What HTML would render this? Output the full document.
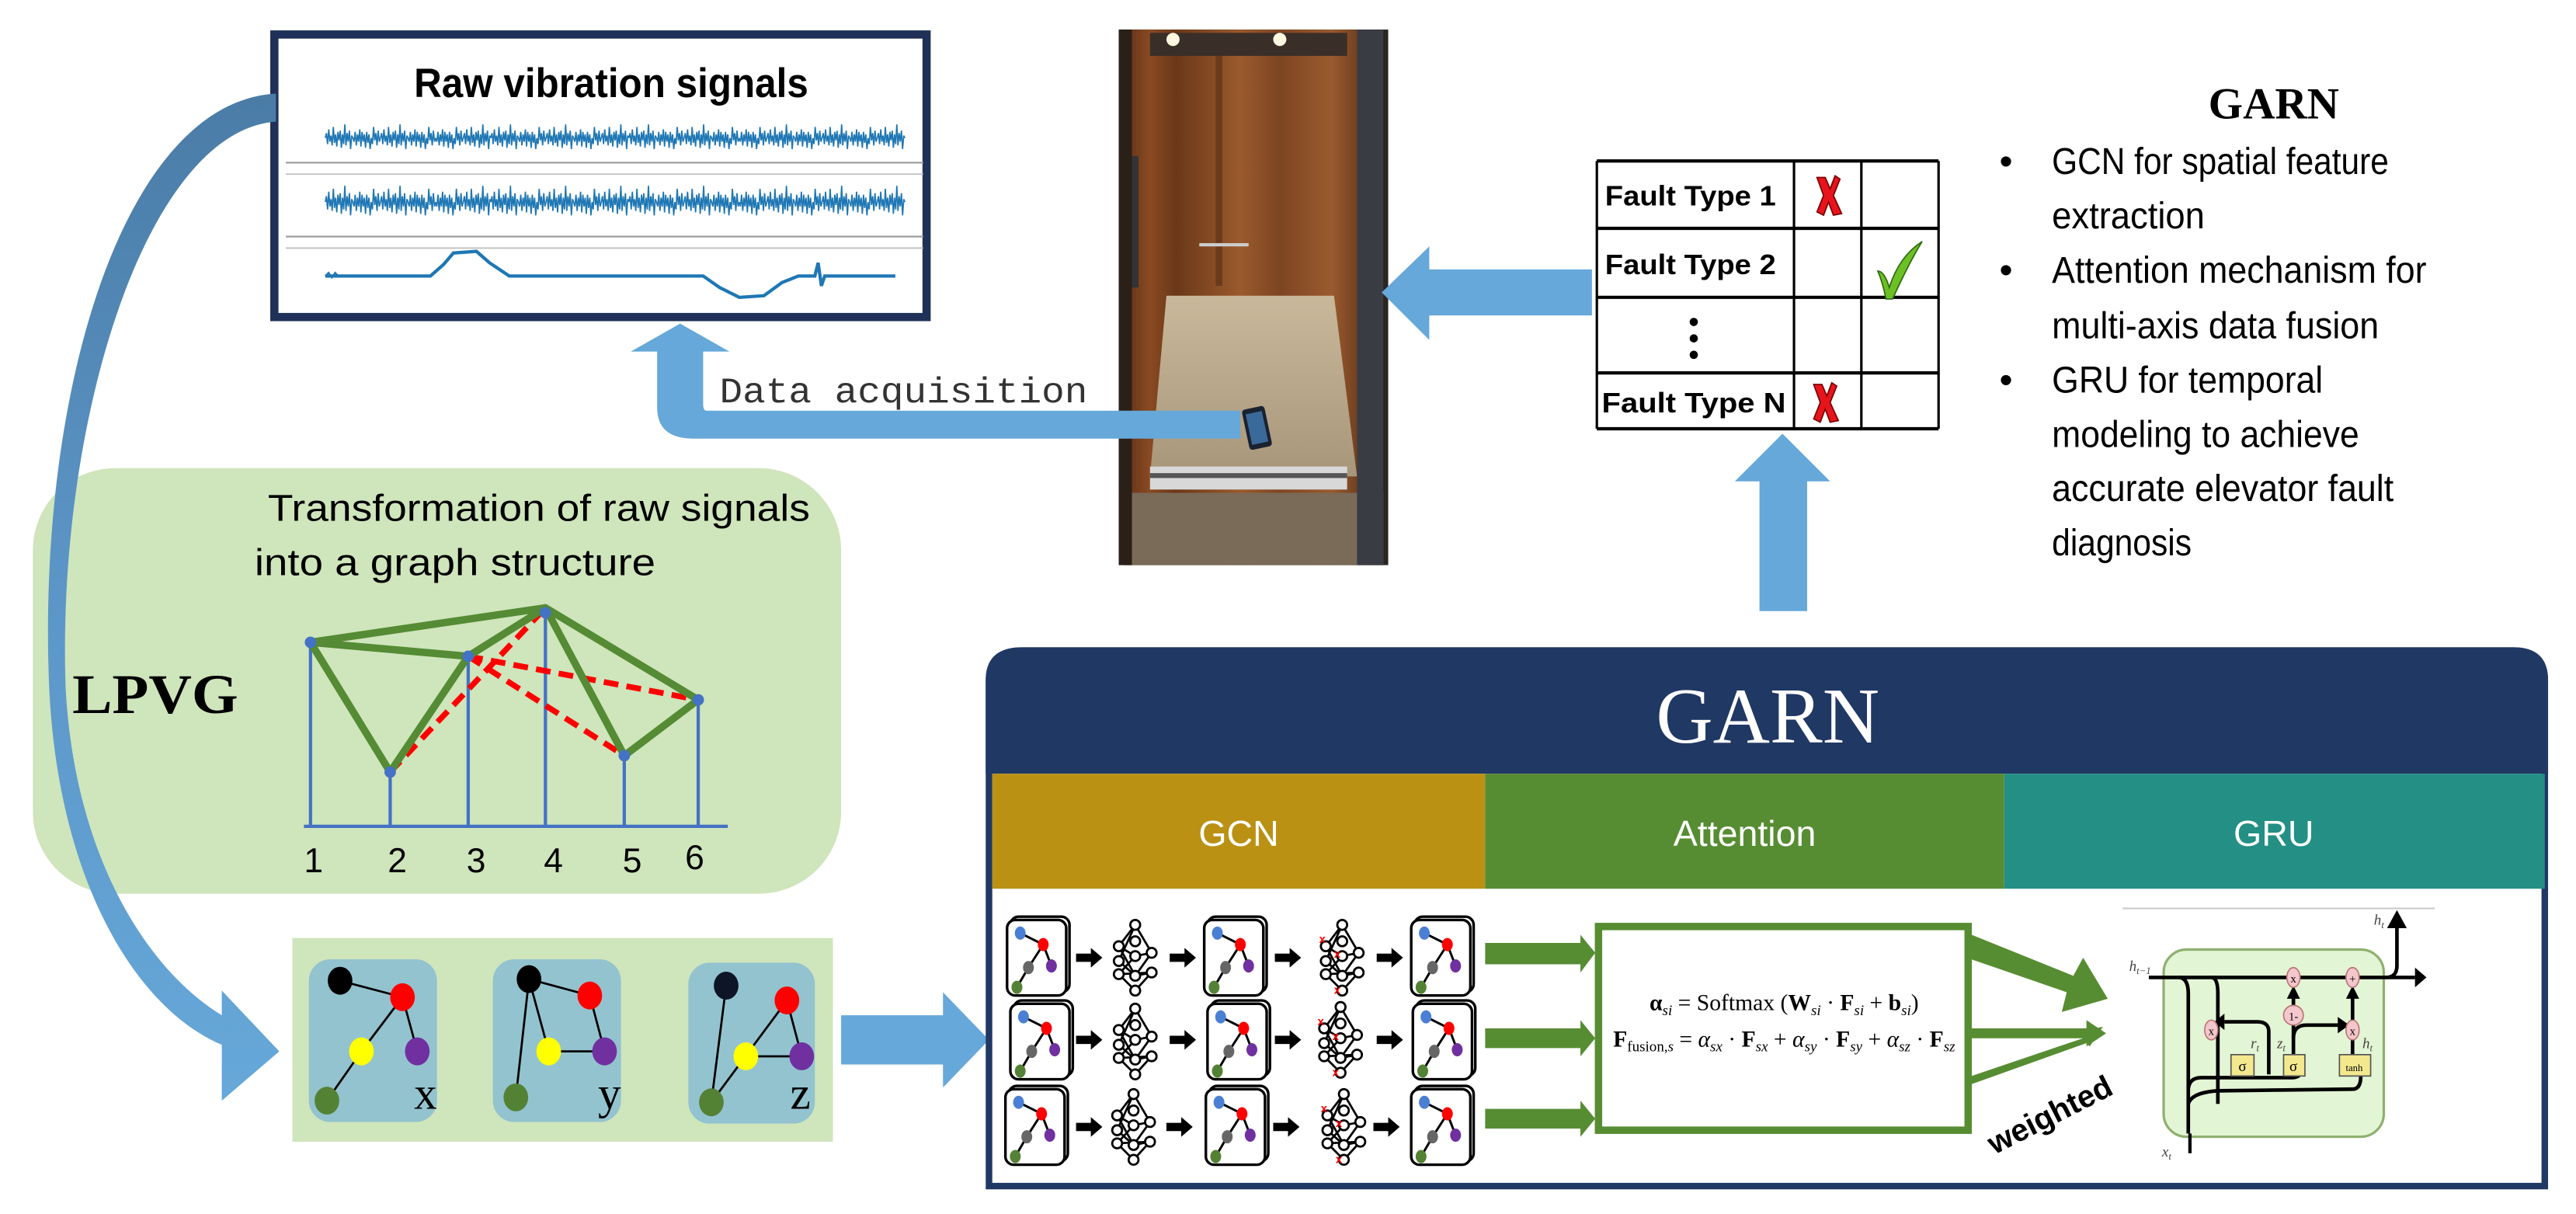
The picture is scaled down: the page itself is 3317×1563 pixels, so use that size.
<!DOCTYPE html>
<html><head><meta charset="utf-8"><style>
html,body{margin:0;padding:0;background:#fff;}
svg{display:block;}
.cal{font-family:"Liberation Sans Narrow","Liberation Sans",sans-serif;}
.ser{font-family:"Liberation Serif",serif;}
</style></head><body>
<svg width="3317" height="1563" viewBox="0 0 1568 739" preserveAspectRatio="none" xmlns="http://www.w3.org/2000/svg">
<defs>
<linearGradient id="curveg" x1="0" y1="0" x2="0" y2="1">
<stop offset="0" stop-color="#4a7ca6"/><stop offset="0.5" stop-color="#5c96c8"/><stop offset="1" stop-color="#66a8d9"/>
</linearGradient>
<linearGradient id="wood" x1="0" y1="0" x2="1" y2="0">
<stop offset="0" stop-color="#5e3016"/><stop offset="0.1" stop-color="#8a4a22"/><stop offset="0.2" stop-color="#6a3818"/><stop offset="0.45" stop-color="#9a5a2c"/><stop offset="0.6" stop-color="#7e4522"/><stop offset="0.8" stop-color="#9a5a2f"/><stop offset="1" stop-color="#4a2812"/>
</linearGradient>
<linearGradient id="floor" x1="0" y1="0" x2="0" y2="1">
<stop offset="0" stop-color="#c9b89a"/><stop offset="1" stop-color="#a8967a"/>
</linearGradient>
<path id="segA" fill="none" stroke="#1f77b4" stroke-width="0.8" d="M0 0 l0.7 -4 l0.7 9 l0.7 -12 l0.7 10 l0.7 -5 l0.7 8 l0.7 -15 l0.7 13 l0.7 -7 l0.7 10 l0.7 -12 l0.7 7 l0.7 -8 l0.7 14 l0.7 -11 l0.7 8 l0.7 -16 l0.7 17 l0.7 -10 l0.7 7 l0.7 -9 l0.7 15 l0.7 -11 l0.7 2"/>
<path id="segB" fill="none" stroke="#1f77b4" stroke-width="0.8" d="M0 0 l0.7 3 l0.7 -8 l0.7 11 l0.7 -9 l0.7 6 l0.7 -10 l0.7 14 l0.7 -12 l0.7 8 l0.7 -6 l0.7 11 l0.7 -13 l0.7 9 l0.7 -7 l0.7 12 l0.7 -9 l0.7 5 l0.7 -14 l0.7 11 l0.7 -6 l0.7 10 l0.7 -12 l0.7 9 l0.7 -3"/>
<g id="row">
<use href="#segA" x="0"/><use href="#segB" x="16.8"/><use href="#segA" x="33.6"/><use href="#segB" x="50.4"/><use href="#segB" x="67.2"/><use href="#segA" x="84"/><use href="#segA" x="100.8"/><use href="#segB" x="117.6"/><use href="#segA" x="134.4"/><use href="#segB" x="151.2"/><use href="#segA" x="168"/><use href="#segA" x="184.8"/><use href="#segB" x="201.6"/><use href="#segA" x="218.4"/><use href="#segB" x="235.2"/><use href="#segB" x="252"/><use href="#segA" x="268.8"/><use href="#segB" x="285.6"/><use href="#segA" x="302.4"/><use href="#segB" x="319.2"/><use href="#segA" x="336"/>
</g>
<g id="gb">
<rect x="2" y="0" width="36" height="46" rx="5" fill="#fff" stroke="#000" stroke-width="1.6"/>
<rect x="0" y="2" width="36" height="46" rx="5" fill="#fff" stroke="#000" stroke-width="1.6"/>
<line x1="8" y1="10" x2="22" y2="17" stroke="#000" stroke-width="1.4"/>
<line x1="22" y1="17" x2="13" y2="31" stroke="#000" stroke-width="1.4"/>
<line x1="22" y1="17" x2="27" y2="30" stroke="#000" stroke-width="1.4"/>
<line x1="13" y1="31" x2="6" y2="43" stroke="#000" stroke-width="1.4"/>
<ellipse cx="8" cy="10" rx="3.3" ry="4" fill="#4a7fd4"/>
<ellipse cx="22" cy="17" rx="3.3" ry="4" fill="#f00"/>
<ellipse cx="13" cy="31" rx="3.3" ry="4" fill="#666"/>
<ellipse cx="27" cy="30" rx="3.3" ry="4" fill="#7030a0"/>
<ellipse cx="6" cy="43" rx="3.3" ry="4" fill="#548235"/>
</g>
<g id="nn" fill="#fff" stroke="#000" stroke-width="1.3">
<path d="M15 4 L5 17 L15 23 L25 21 L15 4 M5 17 L15 35 L25 33 L15 44 L5 34 L15 23 M5 26 L15 35 L25 21 M5 34 L25 33 M5 26 L15 4" fill="none"/>
<circle cx="15" cy="4" r="3"/><circle cx="5" cy="17" r="3"/><circle cx="5" cy="26" r="3"/><circle cx="5" cy="34" r="3"/>
<circle cx="15" cy="14" r="3"/><circle cx="15" cy="23" r="3"/><circle cx="15" cy="35" r="3"/><circle cx="15" cy="44" r="3"/>
<circle cx="25" cy="21" r="3"/><circle cx="25" cy="33" r="3"/>
</g>
<g id="arr"><path d="M0 -2.5 L9 -2.5 L9 -6 L16 0 L9 6 L9 2.5 L0 2.5 Z" fill="#000"/></g>
<g id="xmark"><path d="M-7 -11 L-2 -11 L1 -4 L4 -12 L7 -10 L3 0 L8 11 L3 12 L0 4 L-3 12 L-7 10 L-3 0 Z" fill="#e8141c" stroke="#700" stroke-width="0.8"/></g>
</defs>

<!-- Raw vibration box -->
<rect x="167" y="21" width="397" height="172" fill="#fff" stroke="#1f3158" stroke-width="5"/>
<text x="372" y="59" text-anchor="middle" class="cal" font-weight="bold" font-size="25" textLength="240" lengthAdjust="spacingAndGlyphs">Raw vibration signals</text>
<line x1="174" y1="99" x2="562" y2="99" stroke="#999" stroke-width="1"/>
<line x1="174" y1="106" x2="562" y2="106" stroke="#bbb" stroke-width="0.8"/>
<line x1="174" y1="144" x2="562" y2="144" stroke="#999" stroke-width="1"/>
<line x1="174" y1="151" x2="562" y2="151" stroke="#bbb" stroke-width="0.8"/>
<use href="#row" transform="translate(198 84) scale(1 0.75)"/>
<use href="#row" transform="translate(198 123) scale(1 0.9)"/>
<path d="M198 168 L262 168 L270 161 L276 154 L290 153 L298 160 L310 168 L428 168 L438 175 L450 181 L465 180 L476 172 L486 168 L496 168 L498 160 L500 174 L502 168 L545 168" fill="none" stroke="#1f77b4" stroke-width="2"/>
<path d="M198 168 l2 -2 l2 3 l2 -3 l2 2" fill="none" stroke="#1f77b4" stroke-width="1"/>

<!-- Elevator photo -->
<rect x="681" y="18" width="164" height="326" fill="#2c2420"/>
<rect x="684" y="18" width="158" height="326" fill="url(#wood)"/>
<rect x="700" y="20" width="120" height="14" fill="#3a2e28"/>
<circle cx="714" cy="24" r="4" fill="#fff8e0"/><circle cx="779" cy="24" r="4" fill="#fff8e0"/>
<rect x="740" y="34" width="4" height="140" fill="#6a3a1c"/>
<rect x="730" y="148" width="30" height="2" fill="#ccc"/>
<rect x="688" y="95" width="5" height="80" fill="#333"/>
<path d="M710 180 L812 180 L826 290 L700 290 Z" fill="url(#floor)"/>
<path d="M684 300 L842 300 L842 344 L684 344 Z" fill="#7a6a58"/>
<rect x="700" y="284" width="120" height="14" fill="#d8d8d8"/>
<rect x="700" y="288" width="120" height="3" fill="#555"/>
<rect x="826" y="18" width="16" height="326" fill="#3a3c44"/>
<rect x="681" y="18" width="8" height="326" fill="#2a2018"/>
<rect x="758" y="248" width="14" height="25" rx="2" fill="#1a2230" transform="rotate(-12 765 260)"/>
<rect x="760" y="251" width="10" height="19" fill="#3a6a9a" transform="rotate(-12 765 260)"/>

<!-- Data acquisition arrow -->
<path d="M755 250 L430 250 Q428 250 428 246 L428 214 L444 214 L414 197 L384 214 L400 214 L400 248 Q400 267 422 267 L755 267 Z" fill="#66a8d9"/>
<text x="438" y="245" font-family="Liberation Mono, monospace" font-size="22" fill="#333" textLength="224" lengthAdjust="spacingAndGlyphs">Data acquisition</text>

<!-- Table to photo arrow -->
<path d="M969 164 L870 164 L870 150 L841 178 L870 207 L870 192 L969 192 Z" fill="#66a8d9"/>

<!-- Table -->
<g stroke="#000" stroke-width="1.5" fill="none">
<line x1="972" y1="98" x2="1180" y2="98" stroke-width="2"/>
<line x1="972" y1="139" x2="1180" y2="139" stroke-width="2"/>
<line x1="972" y1="181" x2="1180" y2="181" stroke-width="2"/>
<line x1="972" y1="227" x2="1180" y2="227" stroke-width="2"/>
<line x1="972" y1="261" x2="1180" y2="261" stroke-width="2"/>
<line x1="972" y1="98" x2="972" y2="261"/>
<line x1="1092" y1="98" x2="1092" y2="261"/>
<line x1="1133" y1="98" x2="1133" y2="261"/>
<line x1="1180" y1="98" x2="1180" y2="261"/>
</g>
<g class="cal" font-weight="bold" font-size="17">
<text x="977" y="125" textLength="104" lengthAdjust="spacingAndGlyphs">Fault Type 1</text>
<text x="977" y="167" textLength="104" lengthAdjust="spacingAndGlyphs">Fault Type 2</text>
<text x="975" y="251" textLength="112" lengthAdjust="spacingAndGlyphs">Fault Type N</text>
</g>
<circle cx="1031" cy="196" r="2.5"/><circle cx="1031" cy="206" r="2.5"/><circle cx="1031" cy="216" r="2.5"/>
<use href="#xmark" x="1113" y="119"/>
<use href="#xmark" x="1111" y="245"/>
<path d="M1143 165 Q1147 165 1150 175 Q1156 156 1170 147 Q1162 160 1152 182 L1148 182 Q1146 172 1143 165 Z" fill="#6cc024" stroke="#2d6a10" stroke-width="0.8"/>

<!-- Up arrow GARN -> table -->
<path d="M1071 372 L1071 293 L1056 293 L1085 264 L1114 293 L1100 293 L1100 372 Z" fill="#66a8d9"/>

<!-- Right text -->
<text x="1384" y="72" text-anchor="middle" class="ser" font-weight="bold" font-size="27">GARN</text>
<g class="cal" font-size="23" fill="#000">
<text x="1217" y="106">•</text><text x="1249" y="106" textLength="205" lengthAdjust="spacingAndGlyphs">GCN for spatial feature</text>
<text x="1249" y="139" textLength="93" lengthAdjust="spacingAndGlyphs">extraction</text>
<text x="1217" y="172">•</text><text x="1249" y="172" textLength="228" lengthAdjust="spacingAndGlyphs">Attention mechanism for</text>
<text x="1249" y="206" textLength="199" lengthAdjust="spacingAndGlyphs">multi-axis data fusion</text>
<text x="1217" y="239">•</text><text x="1249" y="239" textLength="165" lengthAdjust="spacingAndGlyphs">GRU for temporal</text>
<text x="1249" y="272" textLength="187" lengthAdjust="spacingAndGlyphs">modeling to achieve</text>
<text x="1249" y="305" textLength="208" lengthAdjust="spacingAndGlyphs">accurate elevator fault</text>
<text x="1249" y="338" textLength="85" lengthAdjust="spacingAndGlyphs">diagnosis</text>
</g>

<!-- Green transformation box -->
<rect x="20" y="285" width="492" height="259" rx="50" fill="#cfe5bb"/>
<text x="163" y="317" class="cal" font-size="23" textLength="330" lengthAdjust="spacingAndGlyphs">Transformation of raw signals</text>
<text x="155" y="350" class="cal" font-size="23" textLength="244" lengthAdjust="spacingAndGlyphs">into a graph structure</text>
<text x="44" y="434" class="ser" font-weight="bold" font-size="34" textLength="101" lengthAdjust="spacingAndGlyphs">LPVG</text>
<g stroke="#4472c4" stroke-width="2">
<line x1="185" y1="503" x2="443" y2="503"/>
<line x1="189" y1="503" x2="189" y2="391"/>
<line x1="237.5" y1="503" x2="237.5" y2="470"/>
<line x1="285" y1="503" x2="285" y2="399.5"/>
<line x1="332" y1="503" x2="332" y2="373"/>
<line x1="380" y1="503" x2="380" y2="460"/>
<line x1="425" y1="503" x2="425" y2="426"/>
</g>
<g stroke="#f00" stroke-width="3.5" stroke-dasharray="9,5" fill="none">
<line x1="237.5" y1="470" x2="332" y2="370"/>
<line x1="285" y1="399.5" x2="425" y2="426"/>
<line x1="285" y1="399.5" x2="380" y2="460"/>
</g>
<g stroke="#548b34" stroke-width="4.5" fill="none" stroke-linejoin="round">
<path d="M189 391 L332 370 L425 426 L380 460 L332 370 L285 399.5 L189 391 L237.5 470 L285 399.5"/>
</g>
<g fill="#4472c4"><circle cx="189" cy="391" r="3.5"/><circle cx="237.5" cy="470" r="3.5"/><circle cx="285" cy="399.5" r="3.5"/><circle cx="332" cy="373" r="3.5"/><circle cx="380" cy="460" r="3.5"/><circle cx="425" cy="426" r="3.5"/></g>
<g class="cal" font-size="21"><text x="185" y="531">1</text><text x="236" y="531">2</text><text x="284" y="531">3</text><text x="331" y="531">4</text><text x="379" y="531">5</text><text x="417" y="529">6</text></g>

<!-- Curved arrow -->
<path d="M168 57 C75 62 22 240 30 420 C36 540 85 615 135 636 L135 670 L170 640 L135 603 L135 618 C92 592 46 525 40 420 C34 260 88 80 168 74 Z" fill="url(#curveg)"/>

<!-- XYZ graph box -->
<rect x="178" y="571" width="329" height="124" fill="#cfe5bb"/>
<rect x="188" y="584" width="78" height="99" rx="13" fill="#93c3cf"/>
<rect x="300" y="584" width="78" height="99" rx="13" fill="#93c3cf"/>
<rect x="419" y="586" width="77" height="98" rx="13" fill="#93c3cf"/>
<g stroke="#000" stroke-width="1.3">
<line x1="207" y1="597" x2="245" y2="607"/><line x1="245" y1="607" x2="220" y2="640"/><line x1="245" y1="607" x2="254" y2="640"/><line x1="220" y1="640" x2="199" y2="670"/>
<line x1="322" y1="596" x2="359" y2="606"/><line x1="322" y1="596" x2="334" y2="640"/><line x1="322" y1="596" x2="314" y2="668"/><line x1="359" y1="606" x2="368" y2="640"/><line x1="334" y1="640" x2="368" y2="640"/>
<line x1="442" y1="600" x2="433" y2="671"/><line x1="433" y1="671" x2="479" y2="609"/><line x1="479" y1="609" x2="488" y2="643"/><line x1="454" y1="643" x2="488" y2="643"/>
</g>
<g>
<ellipse cx="207" cy="597" rx="7.5" ry="8.5" fill="#000"/><ellipse cx="245" cy="607" rx="7.5" ry="8.5" fill="#f00"/><ellipse cx="220" cy="640" rx="7.5" ry="8.5" fill="#ff0"/><ellipse cx="254" cy="640" rx="7.5" ry="8.5" fill="#7030a0"/><ellipse cx="199" cy="670" rx="7.5" ry="8.5" fill="#548235"/>
<ellipse cx="322" cy="596" rx="7.5" ry="8.5" fill="#000"/><ellipse cx="359" cy="606" rx="7.5" ry="8.5" fill="#f00"/><ellipse cx="334" cy="640" rx="7.5" ry="8.5" fill="#ff0"/><ellipse cx="368" cy="640" rx="7.5" ry="8.5" fill="#7030a0"/><ellipse cx="314" cy="668" rx="7.5" ry="8.5" fill="#548235"/>
<ellipse cx="442" cy="600" rx="7.5" ry="8.5" fill="#0d1526"/><ellipse cx="479" cy="609" rx="7.5" ry="8.5" fill="#f00"/><ellipse cx="454" cy="643" rx="7.5" ry="8.5" fill="#ff0"/><ellipse cx="488" cy="643" rx="7.5" ry="8.5" fill="#7030a0"/><ellipse cx="433" cy="671" rx="7.5" ry="8.5" fill="#548235"/>
</g>
<g class="ser" font-size="28"><text x="252" y="675">x</text><text x="364" y="675">y</text><text x="481" y="675">z</text></g>

<!-- Arrow to GARN -->
<path d="M512 618 L574 618 L574 604 L602 633 L574 662 L574 648 L512 648 Z" fill="#66a8d9"/>

<!-- GARN panel -->
<path d="M602 722 L602 414 Q602 396 622 396 L1530 396 Q1549 396 1549 414 L1549 722 Z" fill="#fff" stroke="#203864" stroke-width="4"/>
<path d="M600 471 L600 414 Q600 394 622 394 L1530 394 Q1551 394 1551 414 L1551 471 Z" fill="#203864"/>
<text x="1076" y="452" text-anchor="middle" class="ser" font-size="48" fill="#fff">GARN</text>
<rect x="604" y="471" width="300" height="70" fill="#bb9114"/>
<rect x="904" y="471" width="316" height="70" fill="#578d32"/>
<rect x="1220" y="471" width="329" height="70" fill="#238f85"/>
<g class="cal" font-size="22" fill="#fff" text-anchor="middle">
<text x="754" y="515">GCN</text><text x="1062" y="515">Attention</text><text x="1384" y="515">GRU</text>
</g>

<!-- GCN rows -->
<g>
<use href="#gb" x="613" y="558"/><use href="#arr" x="655" y="583"/><use href="#nn" x="676" y="559"/><use href="#arr" x="712" y="583"/>
<use href="#gb" x="733" y="558"/><use href="#arr" x="776" y="583"/><use href="#nn" x="802" y="559"/><use href="#arr" x="838" y="583"/>
<use href="#gb" x="859" y="558"/>
<use href="#gb" x="615" y="609"/><use href="#arr" x="655" y="633"/><use href="#nn" x="676" y="610"/><use href="#arr" x="712" y="633"/>
<use href="#gb" x="735" y="609"/><use href="#arr" x="776" y="633"/><use href="#nn" x="801" y="609"/><use href="#arr" x="838" y="633"/>
<use href="#gb" x="860" y="609"/>
<use href="#gb" x="612" y="661"/><use href="#arr" x="655" y="686"/><use href="#nn" x="675" y="662"/><use href="#arr" x="710" y="686"/>
<use href="#gb" x="734" y="661"/><use href="#arr" x="775" y="686"/><use href="#nn" x="803" y="662"/><use href="#arr" x="836" y="686"/>
<use href="#gb" x="859" y="661"/>
</g>
<g fill="#f00" font-family="Liberation Sans,sans-serif" font-size="7" font-weight="bold">
<text x="803" y="574">x</text><text x="812" y="583">x</text><text x="812" y="605">x</text>
<text x="802" y="624">x</text><text x="811" y="633">x</text><text x="811" y="655">x</text>
<text x="804" y="677">x</text><text x="813" y="686">x</text><text x="813" y="708">x</text>
</g>

<!-- green arrows into attention -->
<g fill="#578d32">
<path d="M904 574 L962 574 L962 569 L971 580 L962 592 L962 587 L904 587 Z"/>
<path d="M904 626 L962 626 L962 621 L971 632 L962 643 L962 638 L904 638 Z"/>
<path d="M904 675 L962 675 L962 670 L971 681 L962 692 L962 687 L904 687 Z"/>
</g>
<rect x="973" y="564" width="225" height="124" fill="#fff" stroke="#578d32" stroke-width="4.5"/>
<g class="ser" font-size="14" text-anchor="middle">
<text x="1086" y="615"><tspan font-weight="bold">α</tspan><tspan font-size="9" dy="3" font-style="italic">si</tspan><tspan dy="-3"> = Softmax (</tspan><tspan font-weight="bold">W</tspan><tspan font-size="9" dy="3" font-style="italic">si</tspan><tspan dy="-3"> · </tspan><tspan font-weight="bold">F</tspan><tspan font-size="9" dy="3" font-style="italic">si</tspan><tspan dy="-3"> + </tspan><tspan font-weight="bold">b</tspan><tspan font-size="9" dy="3" font-style="italic">si</tspan><tspan dy="-3">)</tspan></text>
<text x="1086" y="637"><tspan font-weight="bold">F</tspan><tspan font-size="9" dy="3">fusion,</tspan><tspan font-size="9" font-style="italic">s</tspan><tspan dy="-3"> = </tspan><tspan font-style="italic">α</tspan><tspan font-size="9" dy="3" font-style="italic">sx</tspan><tspan dy="-3"> · </tspan><tspan font-weight="bold">F</tspan><tspan font-size="9" dy="3" font-style="italic">sx</tspan><tspan dy="-3"> + </tspan><tspan font-style="italic">α</tspan><tspan font-size="9" dy="3" font-style="italic">sy</tspan><tspan dy="-3"> · </tspan><tspan font-weight="bold">F</tspan><tspan font-size="9" dy="3" font-style="italic">sy</tspan><tspan dy="-3"> + </tspan><tspan font-style="italic">α</tspan><tspan font-size="9" dy="3" font-style="italic">sz</tspan><tspan dy="-3"> · </tspan><tspan font-weight="bold">F</tspan><tspan font-size="9" dy="3" font-style="italic">sz</tspan></text>
</g>
<!-- output arrows -->
<g fill="#578d32">
<path d="M1200 569 L1262 594 L1268 583 L1283 608 L1255 616 L1258 604 L1200 584 Z"/>
<path d="M1200 626 L1270 626 L1270 621 L1282 629 L1270 637 L1270 632 L1200 632 Z"/>
<path d="M1200 655 L1268 632 L1266 628 L1280 625 L1272 637 L1270 635 L1200 660 Z"/>
</g>
<text x="0" y="0" font-family="Liberation Sans,sans-serif" font-weight="bold" font-size="19" transform="translate(1214 703) rotate(-27)">weighted</text>

<!-- GRU diagram -->
<line x1="1292" y1="553" x2="1482" y2="553" stroke="#ccc" stroke-width="1"/>
<rect x="1317" y="578" width="134" height="114" rx="14" fill="#e2f5d4" stroke="#8fb070" stroke-width="1.5"/>
<g stroke="#000" stroke-width="2.2" fill="none">
<line x1="1308" y1="595" x2="1470" y2="595"/>
<path d="M1452 595 Q1459 595 1459 588 L1459 563"/>
<path d="M1326 595 Q1332 595 1332 605 L1332 680 M1332 690 L1332 664 Q1332 656 1340 656 L1395 656 Q1402 656 1402 648"/>
<path d="M1346 595 Q1350 595 1350 605 L1350 672"/>
<path d="M1332 672 Q1334 665 1350 664 L1432 663 Q1437 663 1437 655 L1437 650"/>
<path d="M1381 654 L1381 628 Q1381 622 1374 622 L1354 622"/>
<path d="M1396 648 L1396 604"/>
<path d="M1396 632 Q1396 624 1404 624 L1425 624"/>
<path d="M1432 648 L1432 604"/>
</g>
<g fill="#000">
<path d="M1470 589 L1477 595 L1470 601 Z"/>
<path d="M1453 565 L1459 554 L1465 565 Z"/>
<path d="M1354 617 L1348 622 L1354 627 Z"/>
<path d="M1392 608 L1396 600 L1400 608 Z"/>
<path d="M1428 608 L1432 600 L1436 608 Z"/>
<path d="M1423 619 L1430 624 L1423 629 Z"/>
</g>
<g fill="#f4c7cc" stroke="#b77" stroke-width="0.8">
<ellipse cx="1396" cy="595" rx="4" ry="6"/><ellipse cx="1432" cy="595" rx="4" ry="6"/><ellipse cx="1396" cy="618" rx="6" ry="6"/><ellipse cx="1346" cy="627" rx="4" ry="6"/><ellipse cx="1432" cy="627" rx="4" ry="6"/>
</g>
<g fill="#f3e88e" stroke="#555" stroke-width="0.8">
<rect x="1358" y="642" width="14" height="13"/><rect x="1390" y="642" width="13" height="13"/><rect x="1424" y="642" width="19" height="13"/>
</g>
<g font-family="Liberation Serif,serif" font-size="7" text-anchor="middle">
<text x="1396" y="598">x</text><text x="1432" y="598">+</text><text x="1396" y="621">1-</text><text x="1346" y="630">x</text><text x="1432" y="630">x</text>
<text x="1365" y="652" font-size="9">σ</text><text x="1396" y="652" font-size="9">σ</text><text x="1433" y="652" font-size="6">tanh</text>
</g>
<g font-family="Liberation Serif,serif" font-style="italic" font-size="9" fill="#444">
<text x="1296" y="591">h<tspan font-size="6" dy="2">t−1</tspan></text>
<text x="1445" y="563">h<tspan font-size="6" dy="2">t</tspan></text>
<text x="1316" y="704">x<tspan font-size="6" dy="2">t</tspan></text>
<text x="1370" y="638">r<tspan font-size="6" dy="2">t</tspan></text>
<text x="1386" y="638">z<tspan font-size="6" dy="2">t</tspan></text>
<text x="1438" y="638">h<tspan font-size="6" dy="2">t</tspan></text>
</g>
<line x1="1333" y1="690" x2="1333" y2="702" stroke="#000" stroke-width="2"/>
</svg>
</body></html>
